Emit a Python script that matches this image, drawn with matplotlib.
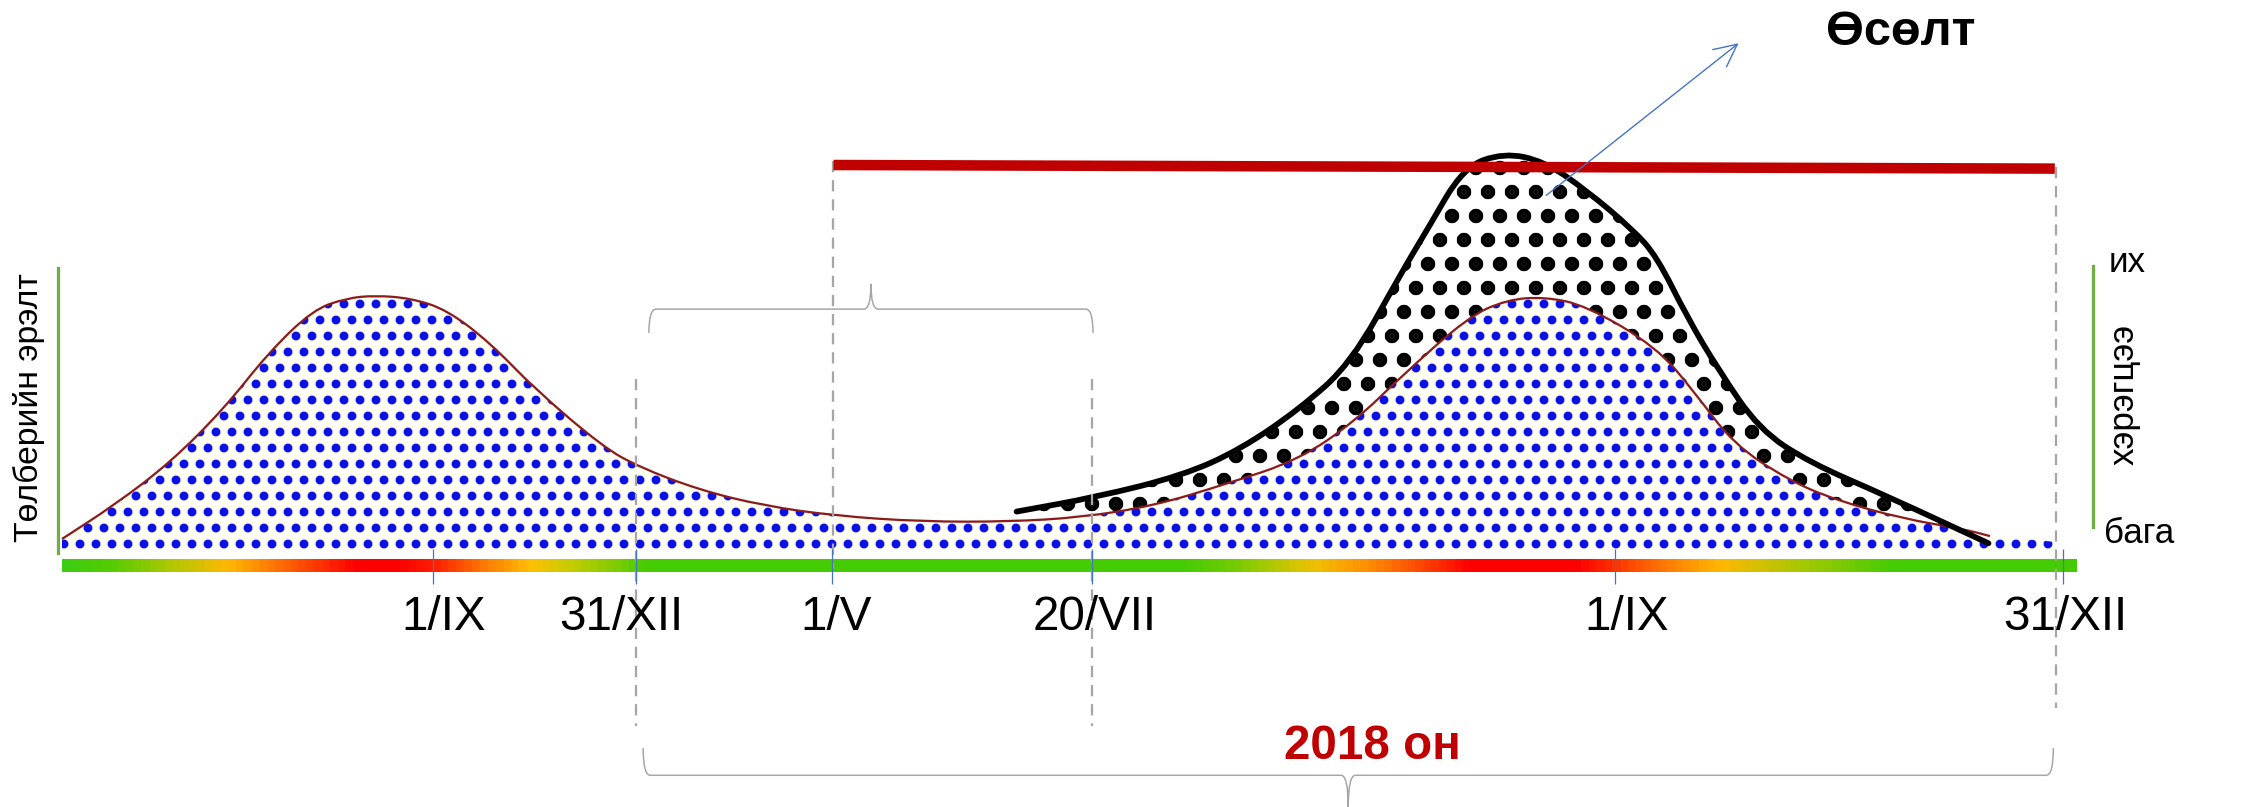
import numpy as np
import matplotlib
matplotlib.use('Agg')
import matplotlib.pyplot as plt
from matplotlib.path import Path
from matplotlib.patches import PathPatch, FancyArrowPatch
from matplotlib.colors import LinearSegmentedColormap

# schematic units: x runs along the time line, y grows downward
demand_x = [43, 80, 118, 155, 186, 217, 240, 260, 285, 310, 340, 371, 418, 443,
            485, 530, 580, 640, 700, 750, 800, 850, 901, 940, 972, 1018, 1045,
            1071, 1100, 1149, 1175, 1202, 1240, 1273, 1320, 1361, 1380]
demand_y = [374, 350, 321, 284, 245, 215, 207, 205, 207, 215, 238, 270, 310, 324,
            340, 351, 358, 362, 362, 359, 351, 336, 319, 292, 261, 220, 208,
            206, 212, 241, 272, 308, 333, 347, 360, 367, 372]

growth_x = [705, 760, 820, 860, 901, 937, 972, 990, 1015, 1043, 1071, 1100,
            1132, 1149, 1170, 1192, 1220, 1255, 1308, 1379]
growth_y = [355, 345, 330, 312, 284, 252, 189, 159, 116, 106, 112, 132,
            159, 178, 220, 257, 298, 321, 344, 377]

date_labels = ['1/IX', '31/XII', '1/V', '20/VII', '1/IX', '31/XII']
date_ticks = [300, 441, 577, 757, 1120, 1431]
label_x = [308, 431, 580, 759, 1128, 1432]

bar_stops = [43, 75, 116, 156, 205, 245, 275, 300, 333, 367, 393, 425, 445,
             820, 855, 890, 913, 948, 982, 1020, 1095, 1120, 1160, 1195, 1250,
             1315, 1440]
bar_colors = ['#3ccc14', '#55cc00', '#b0c800', '#ffb800', '#ff5000', '#ff0000',
              '#ff0000', '#ff2000', '#ff7800', '#ffc000', '#c8cc00', '#80cc00',
              '#44cc00', '#44cc00', '#70cc00', '#c0c800', '#f0c000', '#ff9000',
              '#ff5000', '#ff0000', '#ff0000', '#ff3000', '#ff8000', '#ffb800',
              '#a8c800', '#44cc00', '#44cc00']

guide_x = [441, 757, 578, 1426]
guide_top = [263, 263, 112, 116]
guide_bottom = [504, 504, 395, 491]

plt.rcParams['font.family'] = ['Liberation Sans', 'DejaVu Sans']

DPI = 288
S = 180 / DPI  # sizes below were tuned in points at 180 dpi

W, H = 1568, 560
fig = plt.figure(figsize=(2261 / DPI, 807 / DPI), dpi=DPI)
ax = fig.add_axes([0, 0, 1, 1])
ax.set_xlim(0, W)
ax.set_ylim(H, 0)
ax.axis('off')


def smooth(xs, ys):
    pts = np.column_stack([xs, ys]).astype(float)
    mids = (pts[:-1] + pts[1:]) / 2
    verts = [pts[0], mids[0]]
    codes = [Path.MOVETO, Path.LINETO]
    for i in range(1, len(pts) - 1):
        verts += [pts[i], mids[i]]
        codes += [Path.CURVE3, Path.CURVE3]
    verts.append(pts[-1])
    codes.append(Path.LINETO)
    return verts, codes


def brace(x0, x1, xt, y_end, y_bar, y_tip, r):
    verts = [(x0, y_end), (x0, y_bar), (x0 + r, y_bar), (xt - r, y_bar),
             (xt, y_bar), (xt, y_tip), (xt, y_bar), (xt + r, y_bar),
             (x1 - r, y_bar), (x1, y_bar), (x1, y_end)]
    codes = [Path.MOVETO, Path.CURVE3, Path.CURVE3, Path.LINETO,
             Path.CURVE3, Path.CURVE3, Path.CURVE3, Path.CURVE3,
             Path.LINETO, Path.CURVE3, Path.CURVE3]
    return Path(verts, codes)


base = 381

# blue speckled demand area
v, c = smooth(demand_x, demand_y)
v = v + [(1425, 376), (1425, base), (demand_x[0], base), (demand_x[0], base)]
c = c + [Path.LINETO, Path.LINETO, Path.LINETO, Path.CLOSEPOLY]
plt.rcParams['hatch.linewidth'] = 1.4
blue_area = PathPatch(Path(v, c), facecolor='#fffef3', edgecolor='#0a10e8',
                      linewidth=0, hatch='...', zorder=1)
if hasattr(blue_area, 'set_hatch_linewidth'):
    blue_area.set_hatch_linewidth(1.4)
ax.add_patch(blue_area)

# black dotted growth area
gv, gc = smooth(growth_x, growth_y)
sub = [(x, y) for x, y in zip(demand_x, demand_y) if x >= 700][::-1]
bv, bc = smooth([p[0] for p in sub], [p[1] for p in sub])
bc[0] = Path.LINETO
v = gv + bv + [bv[-1]]
c = gc + bc + [Path.CLOSEPOLY]
plt.rcParams['hatch.linewidth'] = 2.4
black_area = PathPatch(Path(v, c), facecolor='white', edgecolor='black',
                       linewidth=0, hatch='..', zorder=1)
if hasattr(black_area, 'set_hatch_linewidth'):
    black_area.set_hatch_linewidth(2.4)
ax.add_patch(black_area)

# outlines
v, c = smooth(demand_x, demand_y)
ax.add_patch(PathPatch(Path(v, c), facecolor='none', edgecolor='#8b1c1c',
                       linewidth=0.9 * S, zorder=3))
v, c = smooth(growth_x, growth_y)
ax.add_patch(PathPatch(Path(v, c), facecolor='none', edgecolor='black',
                       linewidth=2.3 * S, capstyle='round', zorder=4))

# colour time line
pos = (np.array(bar_stops) - bar_stops[0]) / (bar_stops[-1] - bar_stops[0])
cmap = LinearSegmentedColormap.from_list('season', list(zip(pos, bar_colors)))
ax.imshow(np.linspace(0, 1, 1400)[None, :], cmap=cmap, aspect='auto',
          extent=(bar_stops[0], bar_stops[-1], 396.7, 388.3), zorder=2)

# dashed guides
for x, y0, y1 in zip(guide_x, guide_top, guide_bottom):
    ax.plot([x, x], [y0, y1], color='#a6a6a6', linewidth=0.9 * S,
            dashes=(5, 3.5), zorder=5)

# blue tick marks and date labels
ax.vlines(date_ticks, 381, 405.5, color='#4472c4', linewidth=0.5 * S, zorder=6)
for x, lab in zip(label_x, date_labels):
    ax.text(x, 437, lab, ha='center', va='baseline', fontsize=19 * S, zorder=6)

# red horizontal level line
ax.plot([578, 1425], [114.5, 117], color='#c00000', linewidth=4.2 * S,
        solid_capstyle='butt', zorder=7)

# braces
ax.add_patch(PathPatch(brace(450, 758, 604, 231, 214.5, 197, 5),
                       facecolor='none', edgecolor='#a6a6a6', linewidth=0.6 * S))
ax.add_patch(PathPatch(brace(446, 1424, 935, 519, 538, 560, 5),
                       facecolor='none', edgecolor='#a6a6a6', linewidth=0.6 * S))

# green side scales
ax.plot([40, 40], [186, 384], color='#70ad47', linewidth=1.3 * S)
ax.plot([1451.6, 1451.6], [184.5, 365.5], color='#70ad47', linewidth=1.3 * S)

# arrow
ax.add_patch(FancyArrowPatch((1068, 139), (1210, 26.6),
                             arrowstyle='->,head_length=0.45,head_width=0.22',
                             mutation_scale=20 * S, color='#4472c4',
                             linewidth=0.55 * S, zorder=8))

# texts
ax.text(952, 527, '2018 он', ha='center', va='baseline', fontsize=19 * S,
        fontweight='bold', color='#c00000')
ax.text(1318, 31, 'Өсөлт', ha='center', va='baseline', fontsize=19.5 * S,
        fontweight='bold', color='black')
ax.text(20, 283, 'Төлберийн эрэлт', rotation=90, ha='center', va='center',
        fontsize=13.5 * S)
ax.text(1473, 274, 'хэрэгцээ', rotation=90, ha='center', va='center',
        fontsize=14 * S)
ax.text(1462, 189, 'их', ha='left', va='baseline', fontsize=14 * S)
ax.text(1459, 376.6, 'бага', ha='left', va='baseline', fontsize=14 * S)

fig.savefig('out.png', dpi=DPI)
